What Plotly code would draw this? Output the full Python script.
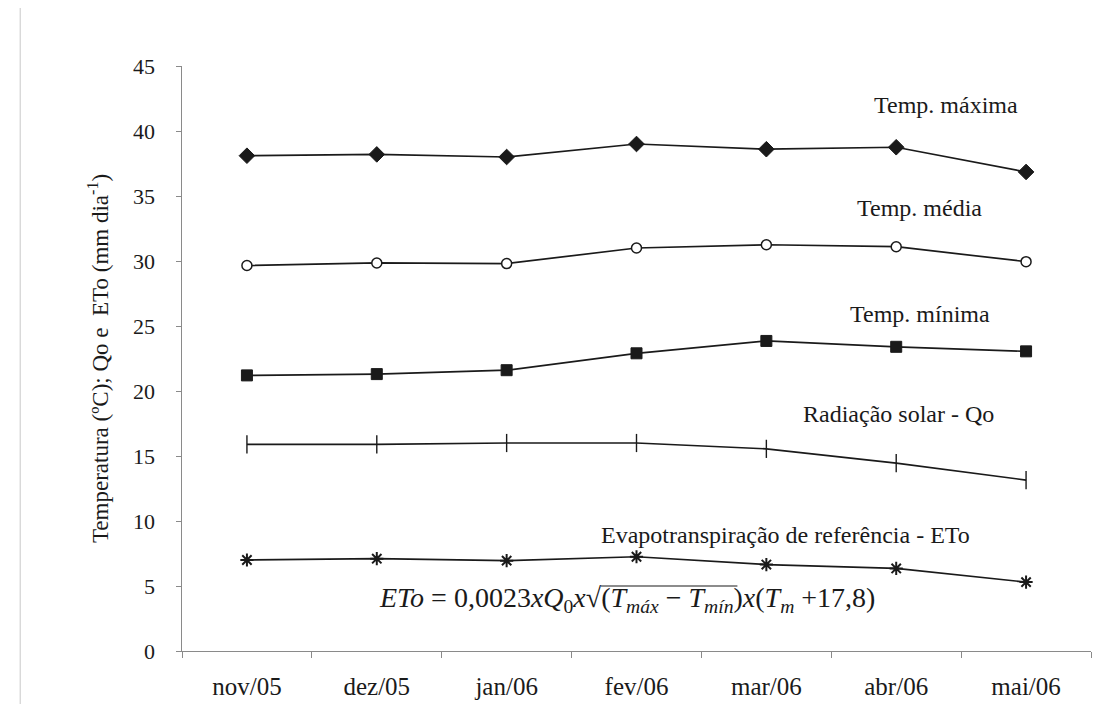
import plotly.graph_objects as go

months = ["nov/05", "dez/05", "jan/06", "fev/06", "mar/06", "abr/06", "mai/06"]
temp_max = [38.1, 38.2, 38.0, 39.0, 38.6, 38.75, 36.85]
temp_med = [29.65, 29.85, 29.8, 31.0, 31.25, 31.1, 29.95]
temp_min = [21.2, 21.3, 21.6, 22.9, 23.85, 23.4, 23.05]
rad_qo = [15.9, 15.9, 16.0, 16.0, 15.55, 14.45, 13.15]
eto = [7.0, 7.1, 6.95, 7.25, 6.65, 6.35, 5.3]

y_ticks = [0, 5, 10, 15, 20, 25, 30, 35, 40, 45]

FONT = "Liberation Serif, Times New Roman, serif"
INK = "#1a1a1a"

fig = go.Figure()

def add(y, symbol, size, fill, lw_marker):
    fig.add_trace(go.Scatter(
        x=months, y=y, mode="lines+markers",
        line=dict(color=INK, width=1.7),
        marker=dict(symbol=symbol, size=size, color=fill,
                    line=dict(color=INK, width=lw_marker)),
        showlegend=False, cliponaxis=False))

add(temp_max, "diamond", 12, INK, 1)
add(temp_med, "circle", 10, "white", 1.5)
add(temp_min, "square", 11, INK, 1)
add(rad_qo, "line-ns", 13, INK, 1.4)
add(eto, "asterisk", 11, INK, 2)

labels = [
    ("Temp. máxima", 0.84, 42.0),
    ("Temp. média", 0.811, 34.1),
    ("Temp. mínima", 0.812, 25.9),
    ("Radiação solar - Qo", 0.788, 18.25),
    ("Evapotranspiração de referência - ETo", 0.664, 8.9),
]
for txt, xp, yv in labels:
    fig.add_annotation(x=xp, xref="paper", xanchor="center", y=yv, yref="y",
                       yanchor="middle", text=txt, showarrow=False,
                       font=dict(family=FONT, size=24, color=INK))

formula = ("<i>ETo</i> = 0,0023<i>xQ</i><sub>0</sub><i>x</i>√(<i>T</i><sub><i>máx</i></sub>"
           " − <i>T</i><sub><i>mín</i></sub>)<i>x</i>(<i>T</i><sub><i>m</i></sub> +17,8)")
fig.add_annotation(x=0.49, xref="paper", xanchor="center", y=3.95, yref="y",
                   yanchor="middle", text=formula, showarrow=False,
                   font=dict(family=FONT, size=28, color=INK))

fig.update_layout(
    width=1118, height=704,
    margin=dict(l=174, r=35, t=58, b=59),
    paper_bgcolor="white", plot_bgcolor="white",
    font=dict(family=FONT, size=22, color=INK),
    xaxis=dict(
        type="category", range=[-0.5, 6.5], tickson="boundaries",
        showline=True, linecolor="#8a8a8a", linewidth=1,
        ticks="outside", ticklen=6, tickcolor="#8a8a8a",
        showgrid=False, zeroline=False, ticklabelstandoff=13,
        tickfont=dict(family=FONT, size=25, color=INK)),
    yaxis=dict(
        range=[0, 45], tickvals=y_ticks,
        ticktext=[f"{v}\u00a0\u00a0\u00a0" for v in y_ticks],
        showline=True, linecolor="#8a8a8a", linewidth=1,
        ticks="outside", ticklen=5, tickcolor="#8a8a8a",
        showgrid=False, zeroline=False,
        tickfont=dict(family=FONT, size=22, color=INK),
        title=dict(text="Temperatura (ºC); Qo e  ETo (mm dia<sup>-1</sup>)",
                   font=dict(family=FONT, size=23, color=INK), standoff=18)),
    shapes=[
        dict(type="line", xref="paper", yref="paper", x0=-0.178, x1=-0.178,
             y0=-0.1, y1=1.1, line=dict(color="#c8c8c8", width=1)),
        dict(type="line", xref="paper", yref="y", x0=0.461, x1=0.611,
             y0=5.0, y1=5.0, line=dict(color=INK, width=1.2)),
    ],
)

fig.write_html("out.html")
